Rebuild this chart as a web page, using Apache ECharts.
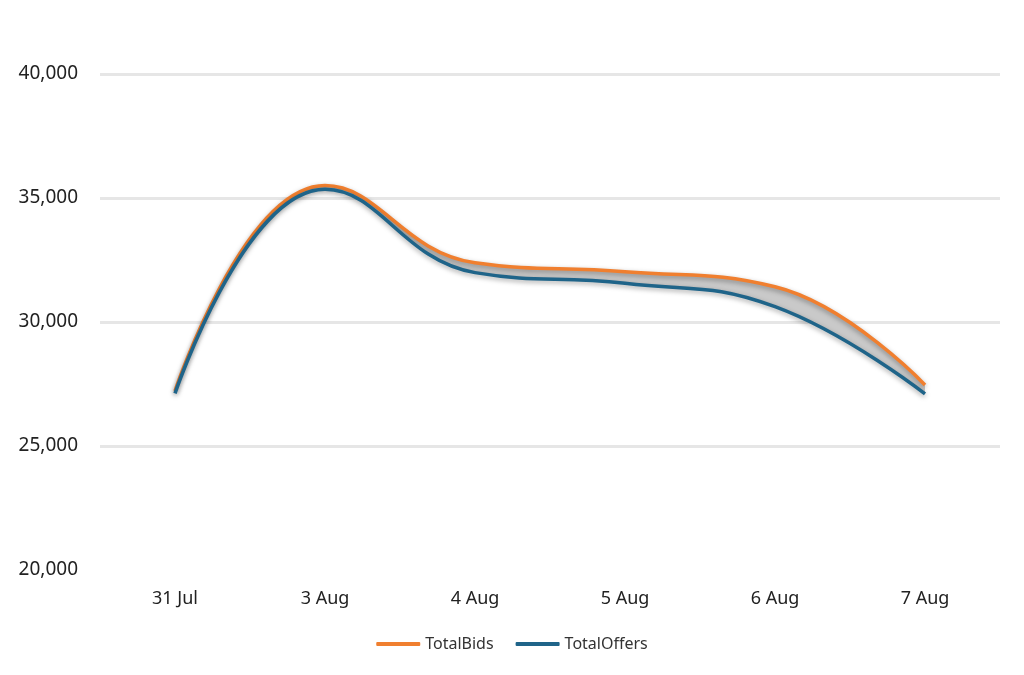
<!DOCTYPE html>
<html>
<head>
<meta charset="utf-8">
<script src="https://cdn.jsdelivr.net/npm/echarts@6/dist/echarts.min.js"></script>
<style>
    html, body { margin: 0; padding: 0; background: #fff; }
    #chart { width: 1024px; height: 675px; }
</style>
</head>
<body>
<div id="chart"></div>
<script>
    var days = ['31 Jul', '3 Aug', '4 Aug', '5 Aug', '6 Aug', '7 Aug'];
    var totalBids = [27220, 35500, 32390, 32030, 31420, 27460];
    var totalOffers = [27120, 35350, 31990, 31560, 30620, 27100];
    var yTicks = [20000, 25000, 30000, 35000, 40000];

    var bidsColor = '#F07F2F';
    var offersColor = '#1F6489';
    var fontName = '"Noto Sans", sans-serif';

    // gap between the two lines, stacked on top of offers to fill the band
    var gap = totalBids.map(function (v, i) { return v - totalOffers[i]; });

    var chart = echarts.init(document.getElementById('chart'));

    function lineSeries(name, data, color) {
        return {
            name: name,
            type: 'line',
            data: data,
            smooth: 0.45,
            symbol: 'none',
            z: 5,
            lineStyle: {
                color: color,
                width: 3.5,
                shadowColor: 'rgba(0,0,0,0.35)',
                shadowBlur: 5,
                shadowOffsetY: 2
            },
            itemStyle: { color: color }
        };
    }

    var option = {
        animation: false,
        textStyle: { fontFamily: fontName },
        grid: {
            left: 100,
            right: 24,
            top: 74,
            bottom: 105,
            containLabel: false
        },
        legend: {
            data: [
                { name: 'TotalBids', icon: 'roundRect' },
                { name: 'TotalOffers', icon: 'roundRect' }
            ],
            bottom: 18,
            left: 'center',
            itemWidth: 44,
            itemHeight: 4,
            itemGap: 22,
            textStyle: { fontSize: 16, color: '#333', fontFamily: fontName }
        },
        xAxis: {
            type: 'category',
            data: days,
            boundaryGap: true,
            axisLine: { show: false },
            axisTick: { show: false },
            axisLabel: { fontSize: 18, color: '#222', margin: 20 }
        },
        yAxis: {
            type: 'value',
            min: yTicks[0],
            max: yTicks[yTicks.length - 1],
            interval: 5000,
            axisLine: { show: false },
            axisTick: { show: false },
            axisLabel: {
                fontSize: 19,
                color: '#222',
                margin: 22,
                formatter: function (v) { return v.toLocaleString('en-US'); }
            },
            splitLine: {
                show: true,
                showMinLine: false,
                lineStyle: { color: '#E6E6E6', width: 3 }
            }
        },
        series: [
            {
                name: 'base',
                type: 'line',
                stack: 'band',
                data: totalOffers,
                smooth: 0.45,
                symbol: 'none',
                silent: true,
                z: 2,
                lineStyle: { opacity: 0 }
            },
            {
                name: 'gap',
                type: 'line',
                stack: 'band',
                data: gap,
                smooth: 0.45,
                symbol: 'none',
                silent: true,
                z: 2,
                lineStyle: { opacity: 0 },
                areaStyle: { color: '#C9C9C9', opacity: 1 }
            },
            lineSeries('TotalBids', totalBids, bidsColor),
            lineSeries('TotalOffers', totalOffers, offersColor)
        ]
    };

    chart.setOption(option);
</script>
</body>
</html>
